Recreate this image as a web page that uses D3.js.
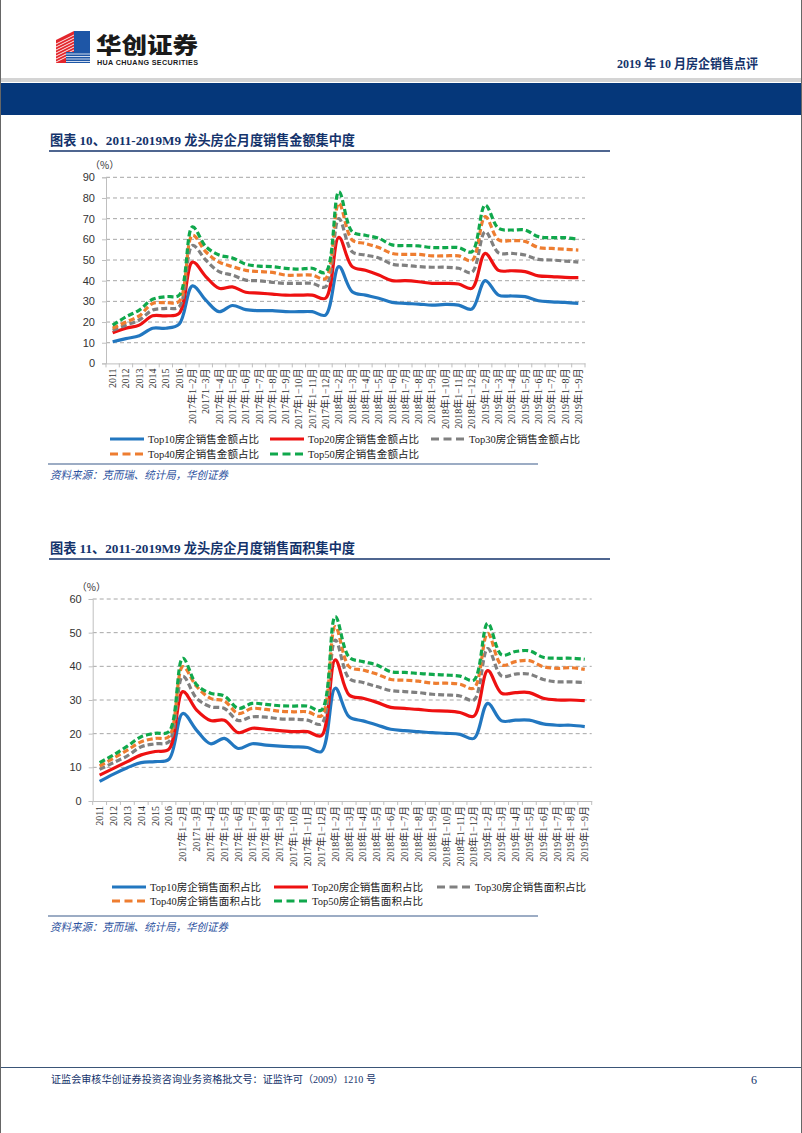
<!DOCTYPE html>
<html><head><meta charset="utf-8">
<script src="https://cdn.jsdelivr.net/npm/d3@7"></script>
<style>
html,body{margin:0;padding:0;background:#fff;}
svg{display:block;}
</style></head>
<body>
<svg id="page" width="802" height="1133"></svg>
<script>
// ---------- DATA ----------
const categories = ["2011","2012","2013","2014","2015","2016",
 "2017年1−2月","20171−3月","2017年1−4月","2017年1−5月","2017年1−6月","2017年1−7月","2017年1−8月","2017年1−9月","2017年1−10月","2017年1−11月","2017年1−12月",
 "2018年1−2月","2018年1−3月","2018年1−4月","2018年1−5月","2018年1−6月","2018年1−7月","2018年1−8月","2018年1−9月","2018年1−10月","2018年1−11月","2018年1−12月",
 "2019年1−2月","2019年1−3月","2019年1−4月","2019年1−5月","2019年1−6月","2019年1−7月","2019年1−8月","2019年1−9月"];

// Chart 1: sales amount share (%)
const amtTop10 = [10.5,12,13.4,17,17,19,37.5,30.6,25,28,26,25.5,25.5,25,25,25,23.4,46.8,34.7,33,31.5,29.5,29,28.7,28.2,28.5,28.2,26.3,40,33,32.6,32.3,30.3,29.8,29.5,29];
const amtTop20 = [14.8,17,18.5,23,23,24.2,49,42,36.3,37,34.4,34,33.5,33,33,33,31.5,61,46.8,45,42.7,40,40,39.5,38.7,38.7,38.4,36.3,53.2,45,44.8,44.4,42.3,42,41.6,41.5];
const amtTop30 = [16,18.5,21,25.8,26.6,27.4,57,50,44.4,42.7,40.3,40,39.2,38.7,38.7,38.7,37,70,54,52.4,51,48,47.4,46.8,46.5,46.5,46,44,63.7,53.5,53.2,52.4,50.3,50,49.5,49];
const amtTop40 = [17,20,23,29,29.4,30,62,54,49,46.8,45,44.4,44,42.7,42.7,42.7,41,77.4,59.7,58,56,53.2,52.7,52.7,52,52,52,49.7,71,59.7,59.4,59,56,55.6,55.2,54.8];
const amtTop50 = [18.5,22.5,25.8,31,32.3,33,66,56.5,52.4,51,48,47,46.8,46,45.6,46,44,83,63.7,62,60.5,57.3,57,56.8,56,56,56,54,76.6,65.3,64.5,64.5,61.3,60.8,60.8,60];

// Chart 2: sales area share (%)
const areaTop10 = [5.8,8,9.9,11.4,11.7,12.4,26,21,17,18.6,15.6,17,16.6,16.3,16.1,15.9,14.7,33.5,25,23.8,22.6,21.3,20.9,20.6,20.3,20.1,19.8,18.6,29,23.8,24,24,22.9,22.5,22.5,22.1];
const areaTop20 = [7.7,9.7,11.7,13.7,14.7,15.4,32.5,27,23.9,24,20.3,21.6,21.3,20.9,20.6,20.6,19.4,41.9,31.5,30.5,29.3,27.8,27.5,27.2,26.8,26.7,26.3,25.2,38.7,32,32.2,32.2,30.5,30,30,29.8];
const areaTop30 = [9.4,11.4,13.4,16.1,17,17.6,37,30.5,28,27.5,23.9,25,24.9,24.4,24.3,24,22.9,47.8,36.4,35.2,34,32.8,32.5,32.2,31.7,31.5,31.2,30,45.3,37.1,37.7,37.7,36.1,35.4,35.4,35.2];
const areaTop40 = [10.4,12.7,15.1,17.6,18.6,19.1,39.9,34,30.5,29.7,26,27.5,27.2,26.7,26.5,26.5,25.3,51.8,39.9,38.9,37.7,36.1,35.9,35.6,35,35,34.7,33.5,49.8,40.4,41.4,41.7,39.9,39.4,39.6,39.1];
const areaTop50 = [11.4,13.7,16.3,19.1,20.1,20.6,42.4,34.5,32,31.2,27.5,29,28.7,28.3,28.2,28.2,27,54.8,42.7,41.4,40.4,38.4,38.2,37.9,37.6,37.4,37.1,35.9,52.8,43.4,44.4,44.6,42.7,42.4,42.4,42.1];

const amtNames  = ["Top10房企销售金额占比","Top20房企销售金额占比","Top30房企销售金额占比","Top40房企销售金额占比","Top50房企销售金额占比"];
const areaNames = ["Top10房企销售面积占比","Top20房企销售面积占比","Top30房企销售面积占比","Top40房企销售面积占比","Top50房企销售面积占比"];
const yTicks1 = [0,10,20,30,40,50,60,70,80,90];
const yTicks2 = [0,10,20,30,40,50,60];

// ---------- STYLE ----------
const seriesStyle = [
  {color:"#2277c0", dash:null},
  {color:"#ee1111", dash:null},
  {color:"#808080", dash:"6,3"},
  {color:"#ee7d30", dash:"6,3"},
  {color:"#10a84c", dash:"6,3"}
];
const navy = "#14336b";
const serif = "'Liberation Serif','Noto Sans CJK SC',serif";
const sans = "'Liberation Sans','Noto Sans CJK SC',sans-serif";

const svg = d3.select("#page");

// ---------- PAGE FURNITURE ----------
svg.append("line").attr("x1",0.5).attr("x2",0.5).attr("y1",0).attr("y2",1133).attr("stroke","#666");
svg.append("line").attr("x1",801.5).attr("x2",801.5).attr("y1",0).attr("y2",1133).attr("stroke","#666");

// logo
const logo = svg.append("g");
logo.append("polygon").attr("points","56,40 74,31 74,63 56,63").attr("fill","#e3262c");
for(let k=0;k<7;k++){
  logo.append("line").attr("x1",56).attr("y1",44+k*3).attr("x2",74).attr("y2",35+k*3).attr("stroke","#fff").attr("stroke-width",0.9);
}
logo.append("polygon").attr("points","74,31 90,31 90,52 74,52").attr("fill","#1e56a6");
logo.append("polygon").attr("points","66,52 90,52 90,63 66,63").attr("fill","#1e56a6");
for(let k=0;k<4;k++){
  logo.append("line").attr("x1",66).attr("y1",54+k*2.5).attr("x2",90).attr("y2",54+k*2.5).attr("stroke","#fff").attr("stroke-width",0.8);
}
svg.append("text").attr("x",96).attr("y",53).attr("font-family","'Noto Sans CJK SC',sans-serif").attr("font-weight",900)
  .attr("font-size",22).attr("fill","#1a1a1a").attr("textLength",102).attr("lengthAdjust","spacingAndGlyphs").text("华创证券");
svg.append("text").attr("x",97).attr("y",65).attr("font-family",sans).attr("font-weight","bold")
  .attr("font-size",7.2).attr("fill","#1a1a1a").attr("textLength",101).text("HUA CHUANG SECURITIES");

svg.append("text").attr("x",617).attr("y",68).attr("font-family",serif).attr("font-weight","bold")
  .attr("font-size",13).attr("fill",navy).attr("textLength",141).attr("lengthAdjust","spacingAndGlyphs").text("2019 年 10 月房企销售点评");

// header bars
svg.append("rect").attr("x",1).attr("y",78).attr("width",800).attr("height",4).attr("fill","#d4d4d4");
svg.append("rect").attr("x",1).attr("y",83).attr("width",800).attr("height",32).attr("fill","#05377a");

// footer
svg.append("line").attr("x1",1).attr("x2",801).attr("y1",1067.5).attr("y2",1067.5).attr("stroke","#3a5577").attr("stroke-width",1.2);
svg.append("text").attr("x",51).attr("y",1083).attr("font-family",serif).attr("font-size",10).attr("fill",navy)
  .attr("textLength",325).attr("lengthAdjust","spacingAndGlyphs")
  .text("证监会审核华创证券投资咨询业务资格批文号：证监许可（2009）1210 号");
svg.append("text").attr("x",757).attr("y",1084).attr("text-anchor","end").attr("font-family",serif).attr("font-size",12).attr("fill",navy).text("6");

// ---------- CHART FUNCTION ----------
function drawChart(cfg){
  const g = svg.append("g");
  g.append("text").attr("x",50).attr("y",cfg.titleY).attr("font-family",serif).attr("font-weight","bold")
    .attr("font-size",13.5).attr("fill",navy).attr("textLength",305).attr("lengthAdjust","spacingAndGlyphs").text(cfg.title);
  g.append("line").attr("x1",49).attr("x2",610).attr("y1",cfg.titleY+6).attr("y2",cfg.titleY+6)
    .attr("stroke",navy).attr("stroke-width",1.6);

  const x = d3.scaleBand().domain(categories).range([cfg.left,cfg.right]);
  const y = d3.scaleLinear().domain([0,cfg.yMax]).range([cfg.bottom,cfg.top]);

  g.append("g").selectAll("line").data(cfg.yTicks.filter(d=>d>0)).join("line")
    .attr("x1",cfg.left).attr("x2",cfg.right).attr("y1",d=>y(d)).attr("y2",d=>y(d))
    .attr("stroke","#a6a6a6").attr("stroke-width",1).attr("stroke-dasharray","4,3");

  const ya = g.append("g").attr("transform",`translate(${cfg.left},0)`)
    .call(d3.axisLeft(y).tickValues(cfg.yTicks).tickSize(4).tickPadding(7));
  ya.select(".domain").attr("stroke","#bfbfbf");
  ya.selectAll(".tick line").attr("stroke","#bfbfbf");
  ya.selectAll("text").attr("font-family",sans).attr("font-size",11).attr("fill","#333");
  g.append("text").attr("x",cfg.left-16).attr("y",cfg.top-8).attr("font-family","'Noto Sans CJK SC',sans-serif")
    .attr("font-size",10).attr("fill","#333").text("（%）");

  const xa = g.append("g").attr("transform",`translate(0,${cfg.bottom})`)
    .call(d3.axisBottom(x).tickSize(0).tickPadding(0));
  xa.select(".domain").attr("stroke","#bfbfbf");
  xa.selectAll(".tick text")
    .attr("transform","translate(0,5) rotate(-90)")
    .attr("text-anchor","end").attr("dy","0.35em").attr("dx",0).attr("y",0)
    .attr("font-family",serif).attr("font-size",10).attr("fill","#333");
  g.append("g").selectAll("line").data(categories.concat(["__end"])).join("line")
    .attr("x1",(d,i)=>cfg.left + i*x.step()).attr("x2",(d,i)=>cfg.left + i*x.step())
    .attr("y1",cfg.bottom).attr("y2",cfg.bottom+4).attr("stroke","#bfbfbf");

  const line = d3.line().x((d,i)=>x(categories[i])+x.bandwidth()/2).y(d=>y(d)).curve(d3.curveCatmullRom.alpha(0.5));
  cfg.series.forEach((s,k)=>{
    g.append("path").datum(s).attr("d",line).attr("fill","none")
      .attr("stroke",seriesStyle[k].color).attr("stroke-width",3.2)
      .attr("stroke-dasharray",seriesStyle[k].dash).attr("stroke-linejoin","round");
  });

  const legPos = [
    [cfg.legX[0],cfg.legY[0]],[cfg.legX[1],cfg.legY[0]],[cfg.legX[2],cfg.legY[0]],
    [cfg.legX[0],cfg.legY[1]],[cfg.legX[1],cfg.legY[1]]
  ];
  cfg.names.forEach((n,k)=>{
    const [lx,ly] = legPos[k];
    g.append("line").attr("x1",lx).attr("x2",lx+34).attr("y1",ly).attr("y2",ly)
      .attr("stroke",seriesStyle[k].color).attr("stroke-width",3.2)
      .attr("stroke-dasharray",seriesStyle[k].dash ? "8,4.5" : null);
    g.append("text").attr("x",lx+38).attr("y",ly).attr("dy","0.35em").attr("font-family",serif)
      .attr("font-size",10.5).attr("fill","#222").attr("textLength",111).attr("lengthAdjust","spacingAndGlyphs").text(n);
  });

  g.append("line").attr("x1",48).attr("x2",538).attr("y1",cfg.srcY).attr("y2",cfg.srcY).attr("stroke","#3b5a8a").attr("stroke-width",1.2);
  g.append("text").attr("x",50).attr("y",cfg.srcY+15).attr("font-family",serif).attr("font-style","italic")
    .attr("font-size",11).attr("fill","#2d52a0").attr("textLength",178).attr("lengthAdjust","spacingAndGlyphs")
    .text("资料来源：克而瑞、统计局，华创证券");
}

drawChart({
  title:"图表 10、2011-2019M9 龙头房企月度销售金额集中度", titleY:145,
  left:106, right:585, top:177.3, bottom:363.4, yMax:90, yTicks:yTicks1,
  series:[amtTop10,amtTop20,amtTop30,amtTop40,amtTop50], names:amtNames,
  legX:[110,270,431], legY:[439,454], srcY:464
});
drawChart({
  title:"图表 11、2011-2019M9 龙头房企月度销售面积集中度", titleY:553,
  left:92.7, right:591.7, top:599, bottom:801, yMax:60, yTicks:yTicks2,
  series:[areaTop10,areaTop20,areaTop30,areaTop40,areaTop50], names:areaNames,
  legX:[112,274,437], legY:[887,901], srcY:916
});
</script>
</body></html>
